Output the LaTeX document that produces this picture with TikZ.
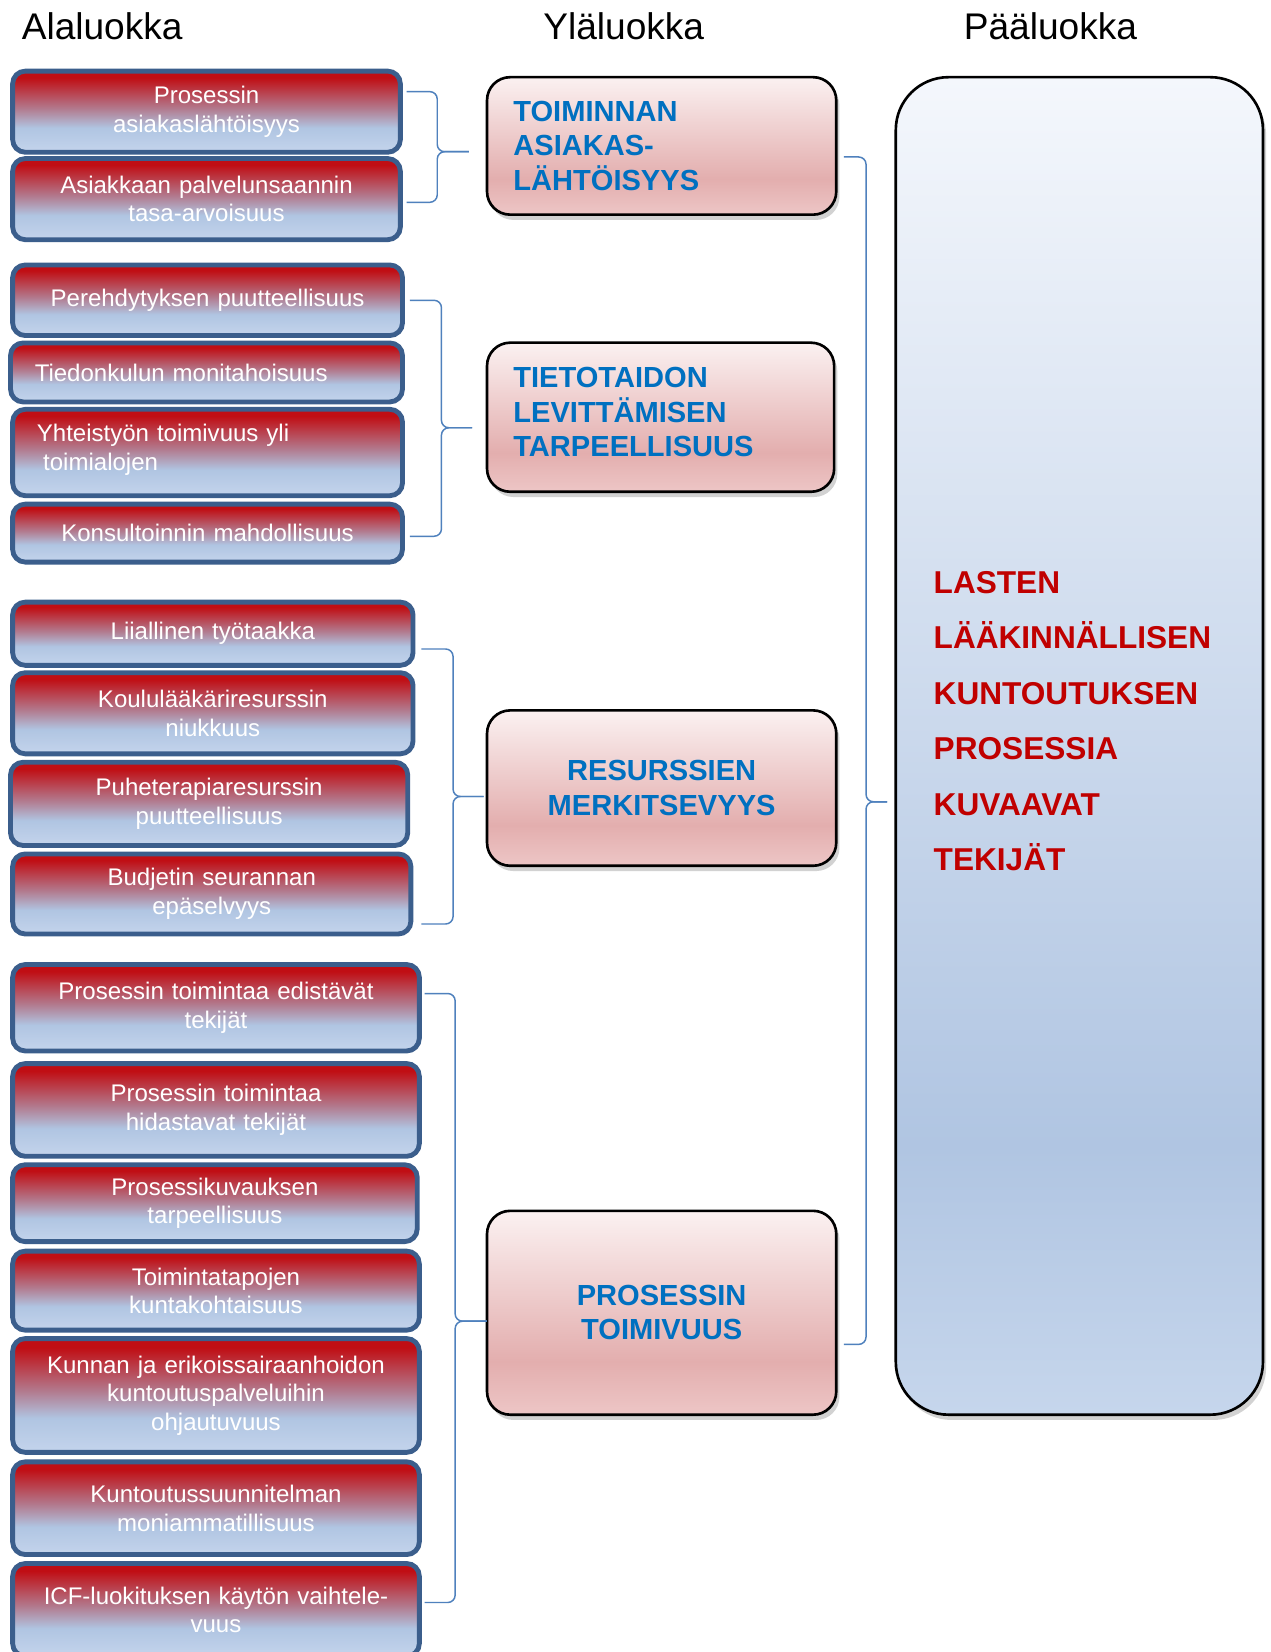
\documentclass[tikz,border=0pt]{standalone}
\usepackage{fontspec}
\setmainfont{Liberation Sans}
\usetikzlibrary{positioning, calc, shadows}

\definecolor{alared}{RGB}{192, 14, 20}
\definecolor{alamauve}{RGB}{178, 122, 142}
\definecolor{alablue}{RGB}{176, 197, 226}
\definecolor{alapale}{RGB}{196, 212, 236}
\definecolor{alaedge}{RGB}{59, 94, 140}
\definecolor{ylatop}{RGB}{251, 241, 241}
\definecolor{ylapink}{RGB}{227, 174, 174}
\definecolor{ylabot}{RGB}{237, 198, 198}
\definecolor{ylatext}{RGB}{0, 112, 192}
\definecolor{paatop}{RGB}{244, 247, 252}
\definecolor{paablue}{RGB}{176, 197, 226}
\definecolor{paabot}{RGB}{198, 214, 236}
\definecolor{paatext}{RGB}{192, 0, 0}
\definecolor{sulkublue}{RGB}{79, 129, 189}

\pgfdeclareverticalshading{alashade}{100bp}{color(0bp)=(alapale); color(25bp)=(alapale); color(40bp)=(alablue); color(52bp)=(alamauve); color(71bp)=(alared); color(100bp)=(alared)}
\pgfdeclareverticalshading{ylashade}{100bp}{color(0bp)=(ylabot); color(25bp)=(ylabot); color(38bp)=(ylapink); color(75bp)=(ylatop); color(100bp)=(ylatop)}
\pgfdeclareverticalshading{paashade}{100bp}{color(0bp)=(paabot); color(25bp)=(paabot); color(35bp)=(paablue); color(75bp)=(paatop); color(100bp)=(paatop)}

\tikzset{
  otsikko/.style={font=\fontsize{35.2}{40}\selectfont},
  alabox/.style={draw=alaedge, line width=4.6pt, rounded corners=12pt, shading=alashade,
    text=white, inner xsep=20pt, inner ysep=0pt, align=center,
    font=\fontsize{22.8}{27}\selectfont},
  ylabox/.style={draw=black, line width=2.5pt, rounded corners=22pt, shading=ylashade,
    drop shadow={shadow xshift=3pt, shadow yshift=-5pt, opacity=0.35},
    text=ylatext, inner xsep=25pt, inner ysep=0pt,
    font=\fontsize{27.6}{32.5}\selectfont\bfseries},
  paabox/.style={draw=black, line width=2.5pt, rounded corners=50pt, shading=paashade,
    drop shadow={shadow xshift=3pt, shadow yshift=-5pt, opacity=0.35}},
  sulku/.style={draw=sulkublue, line width=1.4pt, rounded corners=7pt}
}

\begin{document}
\begin{tikzpicture}[x=1pt, y=-1pt]
  \path[use as bounding box, fill=white] (0,0) rectangle (1206,1568);

  % column headings
  \node[otsikko] (hala) at (97,25) {Alaluokka};
  \node[otsikko] (hyla) at (592,25) {Yläluokka};
  \node[otsikko] (hpaa) at (997,25) {Pääluokka};

  % Alaluokat
  \node[alabox, text width=328pt, minimum height=77pt] (a1) at (196,106) {Prosessin\\asiakaslähtöisyys};
  \node[alabox, text width=328pt, minimum height=77pt] (a2) at (196,189) {Asiakkaan palvelunsaannin\\tasa-arvoisuus};
  \node[alabox, text width=330pt, minimum height=67pt] (a3) at (197,285) {Perehdytyksen puutteellisuus};
  \node[alabox, text width=332pt, minimum height=56pt, align=left] (a4) at (196,353.5) {\hspace*{3pt}Tiedonkulun monitahoisuus};
  \node[alabox, text width=330pt, minimum height=82pt, align=left] (a5) at (197,429.5) {\hspace*{3pt}Yhteistyön toimivuus yli\\\hspace*{9pt}toimialojen\rule[-10pt]{0pt}{10pt}};
  \node[alabox, text width=330pt, minimum height=55pt] (a6) at (197,506) {Konsultoinnin mahdollisuus};
  \node[alabox, text width=340pt, minimum height=60pt] (a7) at (202,601.5) {Liiallinen työtaakka};
  \node[alabox, text width=340pt, minimum height=77pt] (a8) at (202,677) {Koululääkäriresurssin\\niukkuus};
  \node[alabox, text width=337pt, minimum height=79pt] (a9) at (198.5,763) {Puheterapiaresurssin\\puutteellisuus};
  \node[alabox, text width=338pt, minimum height=76pt] (a10) at (201,848.5) {Budjetin seurannan\\epäselvyys};
  \node[alabox, text width=346pt, minimum height=82pt] (a11) at (205,956.5) {Prosessin toimintaa edistävät\\tekijät};
  \node[alabox, text width=346pt, minimum height=88pt] (a12) at (205,1053.5) {Prosessin toimintaa\\hidastavat tekijät};
  \node[alabox, text width=344pt, minimum height=73pt] (a13) at (204,1142) {Prosessikuvauksen\\tarpeellisuus};
  \node[alabox, text width=346pt, minimum height=75pt] (a14) at (205,1225) {Toimintatapojen\\kuntakohtaisuus};
  \node[alabox, text width=346pt, minimum height=108pt] (a15) at (205,1324.5) {Kunnan ja erikoissairaanhoidon\\kuntoutuspalveluihin\\ohjautuvuus};
  \node[alabox, text width=346pt, minimum height=88pt] (a16) at (205,1431.5) {Kuntoutussuunnitelman\\moniammatillisuus};
  \node[alabox, text width=346pt, minimum height=88pt] (a17) at (205,1528) {ICF-luokituksen käytön vaihtele-\\vuus};

  % Yläluokat
  \node[ylabox, text width=281.5pt, minimum height=130.5pt, align=left] (y1) at (628,138.5) {TOIMINNAN\\ASIAKAS-\\LÄHTÖISYYS};
  \node[ylabox, text width=279.5pt, minimum height=141.5pt, align=left] (y2) at (627,396) {TIETOTAIDON\\LEVITTÄMISEN\\TARPEELLISUUS\rule[-10pt]{0pt}{10pt}};
  \node[ylabox, text width=281.5pt, minimum height=147.5pt, align=center] (y3) at (628,748) {RESURSSIEN\\MERKITSEVYYS};
  \node[ylabox, text width=281.5pt, minimum height=193.5pt, align=center] (y4) at (628,1246) {PROSESSIN\\TOIMIVUUS};

  % Pääluokka
  \node[paabox, minimum width=348.5pt, minimum height=1269.5pt] (p1) at (1024.5,708) {};
  \node[anchor=west, inner sep=0pt, align=left, text=paatext,
    font=\fontsize{30}{52.6}\selectfont\bfseries] (p1txt) at (886,684.5)
    {LASTEN\\LÄÄKINNÄLLISEN\\KUNTOUTUKSEN\\PROSESSIA\\KUVAAVAT\\TEKIJÄT};

  % braces
  \coordinate (st1) at (386,87);   \coordinate (sb1) at (386,192);
  \coordinate (sv1) at (415,144);  \coordinate (sk1) at (445,144);
  \coordinate (st2) at (389,285);  \coordinate (sb2) at (389,509);
  \coordinate (sv2) at (419,406);  \coordinate (sk2) at (448,406);
  \coordinate (st3) at (400,616);  \coordinate (sb3) at (400,877);
  \coordinate (sv3) at (430,756);  \coordinate (sk3) at (459,756);
  \coordinate (st4) at (403,943);  \coordinate (sb4) at (403,1521);
  \coordinate (sv4) at (432,1254); \coordinate (sk4) at (462,1254);
  \coordinate (st5) at (801,149);  \coordinate (sb5) at (801,1276);
  \coordinate (sv5) at (822,761);  \coordinate (sk5) at (842,761);
  \foreach \i in {1,...,5} {
    \draw[sulku] (st\i) -- (st\i -| sv\i) -- (sv\i) -- (sk\i);
    \draw[sulku] (sb\i) -- (sb\i -| sv\i) -- (sv\i) -- (sk\i);
  }
\end{tikzpicture}
\end{document}
